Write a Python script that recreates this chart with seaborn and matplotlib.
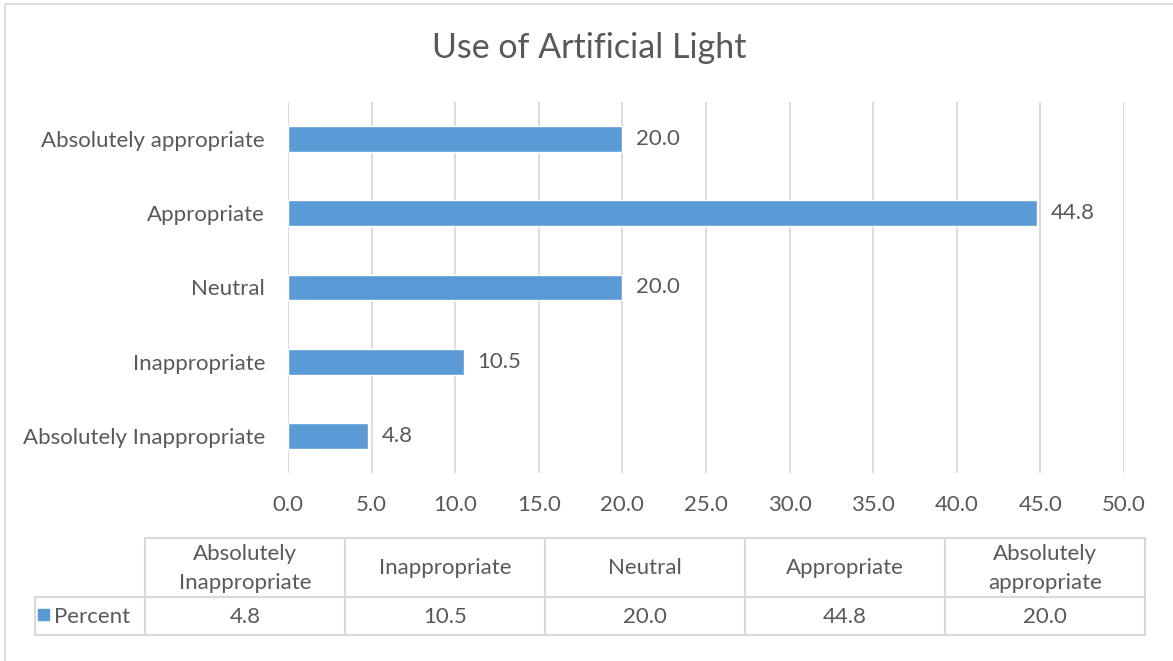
import matplotlib
matplotlib.use("Agg")
import matplotlib.pyplot as plt
import matplotlib.ticker as mticker
from matplotlib.patches import Rectangle
import seaborn as sns
import pandas as pd

# Survey responses, in table order (lowest to highest agreement)
categories = ["Absolutely Inappropriate", "Inappropriate", "Neutral",
              "Appropriate", "Absolutely appropriate"]
table_headers = ["Absolutely\nInappropriate", "Inappropriate", "Neutral",
                 "Appropriate", "Absolutely\nappropriate"]
percent = [4.8, 10.5, 20.0, 44.8, 20.0]
series_name = "Percent"
title = "Use of Artificial Light"

BAR = "#5B9BD5"
TXT = "#595959"
GRID = "#D9D9D9"
FONT = ["Lato", "DejaVu Sans"]
FS = 16

sns.set_theme(style="white")
plt.rcParams["font.family"] = FONT

W, H = 1173, 661
fig = plt.figure(figsize=(W / 100, H / 100), dpi=100)

def px_axes(x0, y0, x1, y1):
    return fig.add_axes([x0 / W, 1 - y1 / H, (x1 - x0) / W, (y1 - y0) / H])

ax = px_axes(288, 102, 1124, 473)

df = pd.DataFrame({"category": categories, "value": percent})
order = categories[::-1]  # highest category at the top
sns.barplot(data=df, x="value", y="category", order=order, color=BAR,
            width=0.35, saturation=1, ax=ax, orient="h")

ax.set_xlim(0, 50)
ax.set_ylim(len(order) - 0.5, -0.5)
ax.xaxis.set_major_locator(mticker.MultipleLocator(5))
ax.xaxis.set_major_formatter(mticker.FormatStrFormatter("%.1f"))
ax.grid(axis="x", color=GRID, linewidth=1.3)
ax.set_axisbelow(True)
for s in ax.spines.values():
    s.set_visible(False)
ax.tick_params(axis="x", length=0, pad=16, labelsize=FS, labelcolor=TXT)
ax.tick_params(axis="y", length=0, pad=16.5, labelsize=FS, labelcolor=TXT)
ax.set_xlabel("")
ax.set_ylabel("")

for cont in ax.containers:
    ax.bar_label(cont, fmt="%.1f", padding=10, fontsize=FS, color=TXT)

# Overlay in pixel coordinates for title, frame and data table
ov = fig.add_axes([0, 0, 1, 1], zorder=-1)
ov.set_xlim(0, W)
ov.set_ylim(H, 0)
ov.axis("off")

ov.add_patch(Rectangle((4.5, 3.5), W + 20, H + 20, fill=False,
                       edgecolor=GRID, linewidth=1.3))
ov.text(589, 48, title, ha="center", va="center", fontsize=24.5, color=TXT)

col_x = [145, 345, 545, 745, 945, 1145]
y_top, y_mid, y_bot = 538, 597, 635
lw = 1.5
ov.plot([col_x[0], col_x[-1]], [y_top, y_top], color=GRID, lw=lw)
ov.plot([35, col_x[-1]], [y_mid, y_mid], color=GRID, lw=lw)
ov.plot([35, col_x[-1]], [y_bot, y_bot], color=GRID, lw=lw)
ov.plot([35, 35], [y_mid, y_bot], color=GRID, lw=lw)
for x in col_x:
    ov.plot([x, x], [y_top, y_bot], color=GRID, lw=lw)

for i, (hdr, val) in enumerate(zip(table_headers, percent)):
    cx = (col_x[i] + col_x[i + 1]) / 2
    ov.text(cx, (y_top + y_mid) / 2 + 1, hdr, ha="center", va="center",
            fontsize=FS, color=TXT, linespacing=1.55)
    ov.text(cx, (y_mid + y_bot) / 2 + 1, f"{val:.1f}", ha="center",
            va="center", fontsize=FS, color=TXT)

ov.add_patch(Rectangle((37.5, 609), 11, 11, color=BAR))
ov.text(54, (y_mid + y_bot) / 2 + 1, series_name, ha="left", va="center",
        fontsize=FS, color=TXT)

fig.savefig("out.png", dpi=100)
